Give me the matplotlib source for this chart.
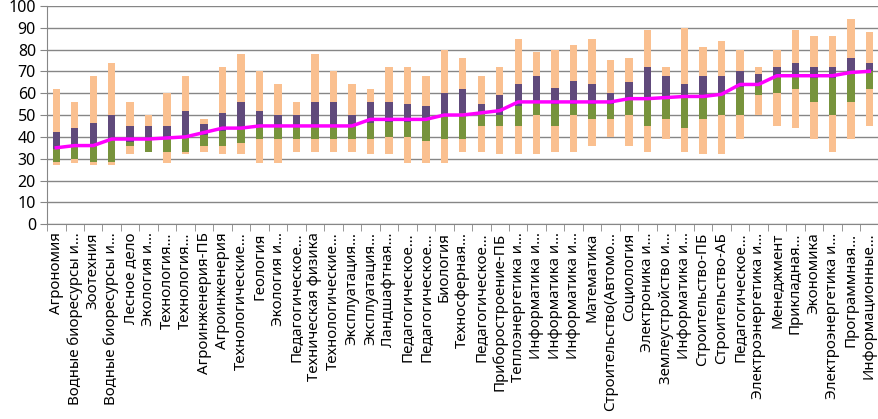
import numpy as np
import matplotlib
matplotlib.use('Agg')
import matplotlib.pyplot as plt

plt.rcParams['font.family'] = ['Noto Sans', 'DejaVu Sans']

# categories (truncated as in the original chart)
labels = ['Агрономия', 'Водные биоресурсы и…', 'Зоотехния', 'Водные биоресурсы и…',
          'Лесное дело', 'Экология и…', 'Технология…', 'Технология…',
          'Агроинженерия-ПБ', 'Агроинженерия', 'Технологические…', 'Геология',
          'Экология и…', 'Педагогическое…', 'Техническая физика', 'Технологические…',
          'Эксплуатация…', 'Эксплуатация…', 'Ландшафтная…', 'Педагогическое…',
          'Педагогическое…', 'Биология', 'Техносферная…', 'Педагогическое…',
          'Приборостроение-ПБ', 'Теплоэнергетика и…', 'Информатика и…', 'Информатика и…',
          'Информатика и…', 'Математика', 'Строительство(Автомо…', 'Социология',
          'Электроника и…', 'Землеустройство и…', 'Информатика и…', 'Строительство-ПБ',
          'Строительство-АБ', 'Педагогическое…', 'Электроэнергетика и…', 'Менеджмент',
          'Прикладная…', 'Экономика', 'Электроэнергетика и…', 'Программная…',
          'Информационные…']

# min, lower quartile, median, upper quartile, max
v_min = [27, 28, 27, 27, 32, 33, 28, 32, 33, 32, 32, 28, 28, 33, 33, 33, 33, 32, 32, 28,
         28, 28, 33, 33, 32, 32, 32, 33, 33, 36, 40, 36, 33, 39, 33, 32, 32, 39, 50, 45,
         44, 39, 33, 39, 45]
v_q1 = [28.5, 30, 28.5, 28.5, 36, 33, 33, 33, 36, 36, 37, 39, 39, 39, 39, 39, 39, 39, 40, 40,
        38, 39, 39, 45, 45, 45, 50, 45, 50, 48, 48, 50, 45, 48, 44, 48, 50, 50, 59, 60,
        62, 56, 50, 56, 62]
v_med = [34.5, 36, 36, 39, 37.5, 39, 39, 39.5, 41, 42.5, 44, 45, 45, 45, 45, 45, 45, 46.5, 47, 47,
         48, 50, 51, 50.5, 50, 54, 56, 55, 55, 55, 55, 58, 57, 58, 58, 58, 59, 63, 64.5, 68,
         68, 67, 67, 69, 70]
v_q3 = [42, 44, 46.5, 50, 45, 45, 45, 52, 46, 51, 56, 52, 50, 50, 56, 56, 50, 56, 56, 55,
        54, 60, 62, 55, 59, 64, 68, 62.5, 65.5, 64, 60, 65, 72, 68, 64, 68, 68, 70, 69, 72,
        74, 72, 72, 76, 74]
v_max = [62, 56, 68, 74, 56, 50, 60, 68, 48, 72, 78, 70, 64, 56, 78, 70, 64, 62, 72, 72,
         68, 80, 76, 68, 72, 85, 79, 80, 82, 85, 75, 76, 89, 72, 90, 81, 84, 80, 72, 80,
         89, 86, 86, 94, 88]
# passing score line
v_line = [35, 36, 36, 39, 39, 39, 39.5, 40, 42, 44, 44, 45, 45, 45, 45, 45, 45, 48, 48, 48,
          48, 50, 50, 51, 52, 56, 56, 56, 56, 56, 56, 57.5, 57.5, 58, 58.5, 58.5, 59.5, 64, 64, 68,
          68, 68, 68, 69.5, 70]

v_min, v_q1, v_med, v_q3, v_max = map(np.array, (v_min, v_q1, v_med, v_q3, v_max))
x = np.arange(len(labels))

fig = plt.figure(figsize=(8.79, 4.19), dpi=100)
ax = fig.add_axes([0.0535, 0.465, 0.946, 0.521])

w = 0.4
ax.bar(x, v_q1 - v_min, w, bottom=v_min, color='#FAC090', zorder=2)
ax.bar(x, v_med - v_q1, w, bottom=v_q1, color='#77933C', zorder=2)
ax.bar(x, v_q3 - v_med, w, bottom=v_med, color='#604A7B', zorder=2)
ax.bar(x, v_max - v_q3, w, bottom=v_q3, color='#FAC090', zorder=2)
ax.plot(x, v_line, color='#FF00FF', lw=2.5, zorder=3)

ax.set_xlim(-0.5, len(labels) - 0.5)
ax.set_ylim(0, 100)
ax.set_yticks(range(0, 101, 10))
ax.yaxis.grid(True, color='#868686', lw=1)
ax.set_axisbelow(True)

ax.set_xticks(x)
ax.set_xticklabels(labels, rotation=90, fontsize=10.8, va='top', ha='center')
ax.set_xticks(np.arange(-0.5, len(labels), 1), minor=True)
ax.tick_params(axis='x', which='major', length=0, pad=6)
ax.tick_params(axis='x', which='minor', length=5, color='#868686')
ax.tick_params(axis='y', length=5, color='#868686', labelsize=11.5, pad=3)

for s in ['top', 'right']:
    ax.spines[s].set_visible(False)
for s in ['left', 'bottom']:
    ax.spines[s].set_color('#868686')

fig.savefig('out.png', dpi=100)
